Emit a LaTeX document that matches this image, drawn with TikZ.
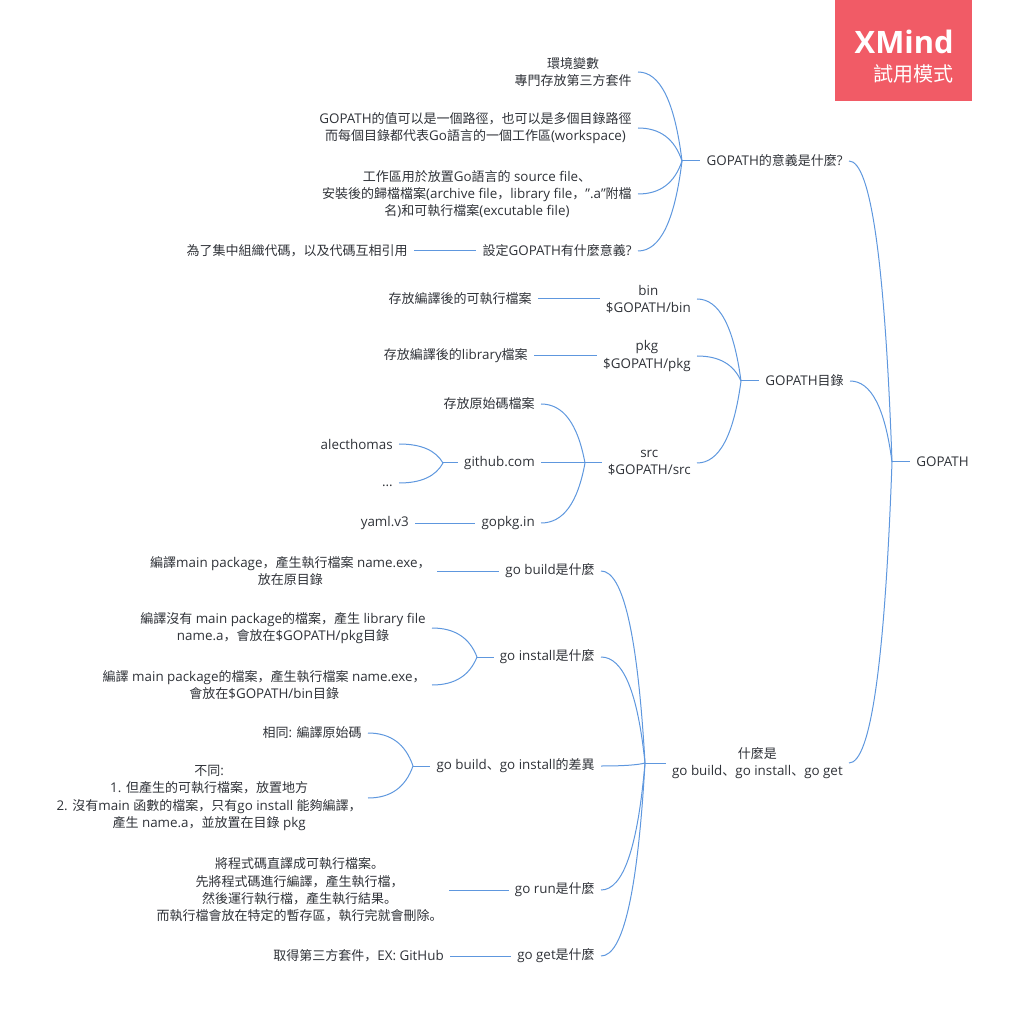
\documentclass[tikz,border=0pt]{standalone}
\usepackage{fontspec}
\usetikzlibrary{calc}
\setmainfont[Scale=1.03]{Open Sans}
\newfontfamily\cjk{Noto Sans CJK SC}

% switch to the CJK font on CJK characters
\XeTeXinterchartokenstate=1
\newXeTeXintercharclass\cjkclass
\newcount\cjkchar
\cjkchar="3000
\loop
  \XeTeXcharclass\cjkchar=\cjkclass
  \advance\cjkchar by 1
\ifnum\cjkchar<"A000 \repeat
\cjkchar="FF00
\loop
  \XeTeXcharclass\cjkchar=\cjkclass
  \advance\cjkchar by 1
\ifnum\cjkchar<"FFF0 \repeat
\XeTeXinterchartoks 0 \cjkclass={\cjk}
\XeTeXinterchartoks 4095 \cjkclass={\cjk}
\XeTeXinterchartoks \cjkclass 0={\rmfamily}
\XeTeXinterchartoks \cjkclass 4095={\rmfamily}

\definecolor{linkblue}{HTML}{5E97DE}
\definecolor{topictext}{HTML}{2F3238}
\definecolor{logored}{HTML}{F15B66}

\tikzset{
  topic/.style={anchor=east, align=center, text=topictext, inner xsep=4.5pt, inner ysep=0pt,
    font=\fontsize{9.75}{13}\selectfont},
  link/.style={draw=linkblue, line width=0.75pt},
  logotext/.style={anchor=east, text=white, inner sep=0pt}
}

% curve from a junction to the end of a topic
\newcommand{\branch}[2]{\draw[link] (#1) .. controls ($(#1)!0.67!($(#1 |- #2)!0.25!(#2)$)$) and ($(#2)!0.67!($(#1 |- #2)!0.25!(#2)$)$) .. (#2);}

\begin{document}
\begin{tikzpicture}[x=0.75pt, y=-0.75pt]
  \useasboundingbox (0,0) rectangle (1024,1019);

  % trial mark
  \node[fill=logored, minimum width=102.75pt, minimum height=75.75pt, inner sep=0pt, anchor=north west] (logo) at (835,0) {};
  \node[logotext, font=\fontsize{22.5}{24}\selectfont\bfseries] (logoname) at (954,41.5) {XMind};
  \node[logotext, font=\fontsize{15}{16}\selectfont] (logomode) at (954,74) {試用模式};

  % root
  \node[topic] (root) at (975,462) {GOPATH};
  \coordinate (jroot) at (892,462);
  \draw[link] (jroot) -- (root.west);

  % first branch
  \node[topic] (meaning) at (849,161) {GOPATH的意義是什麼?};
  \coordinate (jmeaning) at (682,161);
  \draw[link] (jmeaning) -- (meaning.west);
  \branch{jroot}{meaning.east}
  \node[topic] (envvar) at (638,72) {環境變數\\專門存放第三方套件};
  \node[topic] (value) at (638,128) {GOPATH的值可以是一個路徑，也可以是多個目錄路徑\\而每個目錄都代表Go語言的一個工作區(workspace)};
  \node[topic] (workspace) at (638,194) {工作區用於放置Go語言的 source file、\\安裝後的歸檔檔案(archive file，library file，\char34.a\char34附檔\\名)和可執行檔案(excutable file)};
  \node[topic] (why) at (638,251) {設定GOPATH有什麼意義?};
  \node[topic] (whyanswer) at (414,251) {為了集中組織代碼，以及代碼互相引用};
  \branch{jmeaning}{envvar.east}
  \branch{jmeaning}{value.east}
  \branch{jmeaning}{workspace.east}
  \branch{jmeaning}{why.east}
  \draw[link] (whyanswer.east) -- (why.west);

  % second branch
  \node[topic] (dirs) at (850,381) {GOPATH目錄};
  \coordinate (jdirs) at (741,381);
  \draw[link] (jdirs) -- (dirs.west);
  \branch{jroot}{dirs.east}
  \node[topic] (bin) at (697,299) {bin\\\$GOPATH/bin};
  \node[topic] (pkg) at (697,356) {pkg\\\$GOPATH/pkg};
  \node[topic] (src) at (697,463) {src\\\$GOPATH/src};
  \branch{jdirs}{bin.east}
  \branch{jdirs}{pkg.east}
  \branch{jdirs}{src.east}
  \node[topic] (binnote) at (538,299) {存放編譯後的可執行檔案};
  \node[topic] (pkgnote) at (534,356) {存放編譯後的library檔案};
  \draw[link] (binnote.east) -- (bin.west);
  \draw[link] (pkgnote.east) -- (pkg.west);
  \coordinate (jsrc) at (585,463);
  \draw[link] (jsrc) -- (src.west);
  \node[topic] (srcnote) at (541,404) {存放原始碼檔案};
  \node[topic] (github) at (541,463) {github.com};
  \node[topic] (gopkg) at (541,523) {gopkg.in};
  \branch{jsrc}{srcnote.east}
  \branch{jsrc}{gopkg.east}
  \draw[link] (github.east) -- (jsrc);
  \coordinate (jgithub) at (443,463);
  \draw[link] (jgithub) -- (github.west);
  \node[topic] (alec) at (399,444) {alecthomas};
  \node[topic] (dots) at (399,483) {...\strut};
  \branch{jgithub}{alec.east}
  \branch{jgithub}{dots.east}
  \node[topic] (yaml) at (415,523) {yaml.v3};
  \draw[link] (yaml.east) -- (gopkg.west);

  % third branch
  \node[topic] (whatis) at (849,763) {什麼是\\go build、go install、go get};
  \coordinate (jwhatis) at (645,763);
  \draw[link] (jwhatis) -- (whatis.west);
  \branch{jroot}{whatis.east}
  \node[topic] (build) at (601,571) {go build是什麼};
  \node[topic] (install) at (601,657) {go install是什麼};
  \node[topic] (diff) at (601,766) {go build、go install的差異};
  \node[topic] (run) at (601,890) {go run是什麼};
  \node[topic] (get) at (601,956) {go get是什麼};
  \branch{jwhatis}{build.east}
  \branch{jwhatis}{install.east}
  \branch{jwhatis}{diff.east}
  \branch{jwhatis}{run.east}
  \branch{jwhatis}{get.east}

  \node[topic] (buildnote) at (437,571) {編譯main package，產生執行檔案 name.exe，\\放在原目錄};
  \draw[link] (buildnote.east) -- (build.west);

  \coordinate (jinstall) at (477,657);
  \draw[link] (jinstall) -- (install.west);
  \node[topic] (installlib) at (432,628) {編譯沒有 main package的檔案，產生 library file\\name.a，會放在\$GOPATH/pkg目錄};
  \node[topic] (installexe) at (432,685) {編譯 main package的檔案，產生執行檔案 name.exe，\\會放在\$GOPATH/bin目錄};
  \branch{jinstall}{installlib.east}
  \branch{jinstall}{installexe.east}

  \coordinate (jdiff) at (413,766);
  \draw[link] (jdiff) -- (diff.west);
  \node[topic] (same) at (368,733) {相同: 編譯原始碼};
  \node[topic] (differ) at (368,798) {不同:\\1. 但產生的可執行檔案，放置地方\\2. 沒有main 函數的檔案，只有go install 能夠編譯，\\產生 name.a，並放置在目錄 pkg};
  \branch{jdiff}{same.east}
  \branch{jdiff}{differ.east}

  \node[topic] (runnote) at (449,890) {將程式碼直譯成可執行檔案。\\先將程式碼進行編譯，產生執行檔，\\然後運行執行檔，產生執行結果。\\而執行檔會放在特定的暫存區，執行完就會刪除。};
  \draw[link] (runnote.east) -- (run.west);
  \node[topic] (getnote) at (450,956) {取得第三方套件，EX: GitHub};
  \draw[link] (getnote.east) -- (get.west);

\end{tikzpicture}
\end{document}
